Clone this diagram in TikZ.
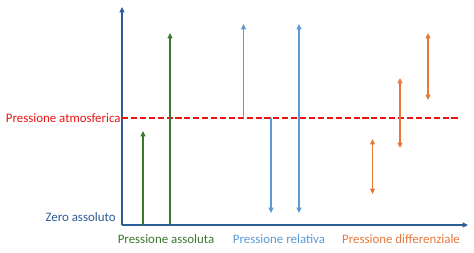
\documentclass[tikz,border=0pt]{standalone}
\usepackage{fontspec}
\setmainfont{Carlito}
\usetikzlibrary{arrows.meta}
\definecolor{asse}{RGB}{46,92,150}
\definecolor{verde}{RGB}{60,120,45}
\definecolor{celeste}{RGB}{91,155,213}
\definecolor{arancio}{RGB}{230,120,60}
\definecolor{rosso}{RGB}{235,20,20}
\tikzset{
  freccia/.style={line width=1pt,-{Triangle[length=4.5pt,width=4pt]}},
  doppia/.style={line width=1pt,{Triangle[length=4.5pt,width=4pt]}-{Triangle[length=4.5pt,width=4pt]}},
  etichetta/.style={font=\fontsize{11pt}{13pt}\selectfont,inner sep=1pt}
}
\begin{document}
\begin{tikzpicture}[x=0.03cm,y=-0.03cm]
\useasboundingbox (0,0) rectangle (474,253);
% assi
\coordinate (O) at (122,225) ;
\coordinate (ytop) at (122,7) ;
\coordinate (xend) at (468,225) ;
\draw[freccia,asse] (O) -- (ytop) ;
\draw[freccia,asse] (O) -- (xend) ;
% pressione atmosferica
\coordinate (atmA) at (122,118) ;
\coordinate (atmB) at (458,118) ;
\draw[rosso,line width=1.6pt,dash pattern=on 5.2pt off 2.4pt] (atmA) -- (atmB) ;
\node[etichetta,rosso,anchor=east] (atm) at (atmA) {Pressione atmosferica} ;
\node[etichetta,asse,anchor=east] (zero) at (117,217) {Zero assoluto} ;
% pressione assoluta
\draw[freccia,verde] (143,225) -- (143,131) ;
\draw[freccia,verde] (170,225) -- (170,33) ;
% pressione relativa
\draw[freccia,celeste] (243.5,118) -- (243.5,24) ;
\draw[freccia,celeste] (271,118) -- (271,213) ;
\draw[doppia,celeste] (299,213) -- (299,24) ;
% pressione differenziale
\draw[doppia,arancio] (372.5,194) -- (372.5,139) ;
\draw[doppia,arancio] (400,148) -- (400,78) ;
\draw[doppia,arancio] (428,100) -- (428,33) ;
% legenda
\node[etichetta,verde] (ass) at (166,239) {Pressione assoluta} ;
\node[etichetta,celeste] (rel) at (279,239) {Pressione relativa} ;
\node[etichetta,arancio] (diff) at (401,239) {Pressione differenziale} ;
\end{tikzpicture}
\end{document}
